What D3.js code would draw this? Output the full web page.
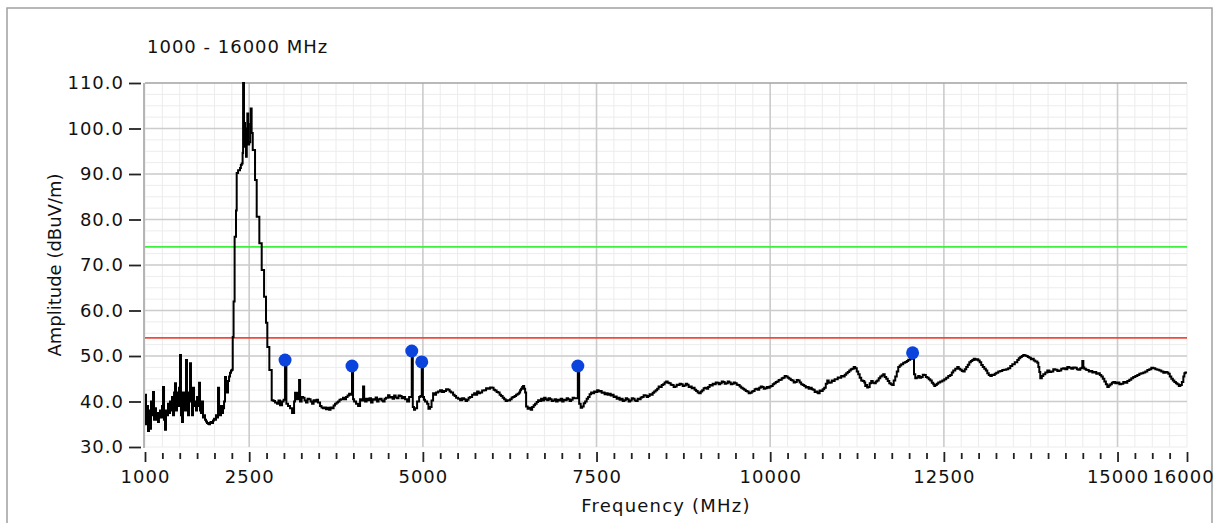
<!DOCTYPE html>
<html>
<head>
<meta charset="utf-8">
<script src="https://cdn.jsdelivr.net/npm/d3@7"></script>
<style>
  html, body { margin: 0; padding: 0; background: #fff; }
  svg { display: block; }
  text { font-family: "DejaVu Sans", Verdana, sans-serif; fill: #111; }
</style>
</head>
<body>
<svg id="chart" width="1215" height="523"></svg>
<script>
// ---------------- DATA ----------------
const titleText = "1000 - 16000 MHz";
const xTitle = "Frequency (MHz)";
const yTitle = "Amplitude (dBuV/m)";
const xDomain = [1000, 16000];
const yDomain = [30, 110];
const xTickLabels = [1000, 2500, 5000, 7500, 10000, 12500, 15000, 16000];
const xMajorGrid = [2500, 5000, 7500, 10000, 12500, 15000];
const yTickLabels = [30, 40, 50, 60, 70, 80, 90, 100, 110];
const limitValues = [74, 54];          // green (peak limit), red (average limit)
const limitColors = ["#3cf03c", "#f04a3c"];
const markerFreq = [3016, 3980, 4840, 4984, 7231, 12050];
const markerAmp  = [49.1, 47.8, 51.1, 48.7, 47.8, 50.7];
// spectrum trace: [frequency MHz, amplitude dBuV/m]
const trace = [
 [1000,41.5],[1014,35],[1029,39],[1043,33.5],[1058,38],[1072,34],[1086,40],[1101,37],[1115,42.1],[1130,36],
 [1144,38.5],[1158,36],[1173,37.5],[1187,35.5],[1201,37],[1216,38],[1230,36.5],[1245,39],[1259,43.2],[1274,36],
 [1288,33.8],[1302,38],[1317,37],[1331,39.5],[1346,37.5],[1360,40],[1374,38],[1389,41],[1403,37],[1418,42],
 [1432,44],[1446,38],[1461,42],[1475,39],[1490,43],[1504,50.2],[1518,37],[1533,35.5],[1547,42],[1562,38],
 [1576,41],[1590,49.1],[1605,38],[1619,37],[1634,42],[1648,48.4],[1662,40],[1677,37],[1691,43],[1706,39],
 [1720,40],[1734,38],[1749,41],[1763,39],[1778,44.1],[1792,38],[1806,37.5],[1821,40],[1835,36.5],[1850,37],
 [1864,36],[1878,35.6],[1893,35.3],[1907,35.1],[1922,35],[1936,35.4],[1950,35.5],[1965,35.3],[1979,35.8],[1994,36.2],
 [2008,36],[2022,37],[2037,36.5],[2051,43],[2066,38],[2080,37],[2094,39],[2109,37.5],[2123,38.5],[2138,40],
 [2152,45.4],[2166,43],[2181,42],[2195,44.5],[2210,45.5],[2224,46.3],[2238,46.8],[2253,47],
 [2263,54.2],[2275,62],[2290,76.2],[2310,82],[2320,90.2],[2340,90.8],[2368,91.3],[2380,92],[2392,92.3],[2405,94.6],
 [2412,110],[2425,101.2],[2440,96],[2454,93.8],[2465,100],[2473,103.3],[2485,96.5],[2500,97],[2515,101],[2522,104.4],
 [2535,99],[2551,95.3],[2584,88.7],[2608,80.6],[2646,74.8],[2680,68.9],[2714,63],[2742,57.3],[2761,52],[2790,46.9],
 [2824,40.3],[2850,40.1],[2872,39.8],[2901,39.5],[2922,40.2],[2944,39.2],[2973,40],[2995,40.4],[3016,49.1],[3035,39.5],
 [3059,39],[3088,38.5],[3117,37.5],[3146,40],[3160,41.9],[3189,40.5],[3218,44.7],[3232,40],[3255,41],[3275,40.8],
 [3297,40.2],[3318,39.8],[3340,40.6],[3362,40.5],[3384,40],[3405,39.5],[3427,40.3],[3448,40],[3470,40.4],[3491,39.8],
 [3520,39],[3541,38.7],[3563,38.5],[3585,38.7],[3606,38.3],[3628,38.6],[3650,38.2],[3671,38.7],[3693,38.5],[3715,39.1],
 [3736,39.5],[3758,39.8],[3779,40],[3800,40.4],[3822,40.5],[3851,40.8],[3872,40.5],[3894,41],[3916,41.3],[3938,41.7],
 [3962,41.5],[3980,47.8],[3995,40.5],[4010,40],[4038,39.5],[4067,39],[4096,40.5],[4120,40.2],[4139,43.3],[4155,40.6],
 [4168,40],[4190,40.6],[4211,40.3],[4233,40.7],[4254,39.8],[4276,40.5],[4298,40.4],[4320,40.9],[4341,40],[4362,40.5],
 [4384,40.6],[4406,40.2],[4427,40],[4449,40.6],[4470,40.8],[4499,41.4],[4520,40.9],[4542,41],[4564,40.6],[4586,41.3],
 [4608,40.9],[4629,40.7],[4650,41.3],[4672,41.2],[4694,40.7],[4715,41],[4744,40.5],[4773,40],[4802,41],[4825,41],
 [4840,51.1],[4855,38.8],[4872,38.2],[4888,38.5],[4917,40],[4946,41],[4965,41.2],[4984,48.7],[5000,41],[5016,40.4],
 [5032,40],[5061,39.5],[5080,38.4],[5104,38.8],[5125,40.2],[5147,41.8],[5168,41.5],[5190,42],[5219,42.2],[5248,42.5],
 [5277,42.1],[5306,42.3],[5334,42.7],[5363,42.6],[5385,42.2],[5406,42],[5435,41.5],[5457,41.2],[5478,40.8],[5507,40.6],
 [5536,40.3],[5565,40.7],[5594,40.5],[5615,40.1],[5637,40.4],[5658,40.8],[5680,41],[5709,41.5],[5738,41.8],[5760,41.5],
 [5781,42.2],[5802,41.8],[5824,42],[5853,42.4],[5882,42.5],[5910,42.9],[5939,42.8],[5968,43.1],[5997,43],[6018,42.6],
 [6040,42.4],[6062,42.1],[6083,42],[6105,41.5],[6126,41.2],[6148,40.8],[6170,40.5],[6191,40.1],[6213,40.3],[6234,40.2],
 [6256,40.5],[6278,40.9],[6299,41],[6320,41.2],[6342,41.5],[6364,41.7],[6386,42],[6400,42.5],[6414,42.8],[6430,43.2],
 [6443,43.4],[6458,42.8],[6472,42],[6486,38.9],[6508,38.4],[6530,38.6],[6552,38.2],[6573,38.8],[6595,39.2],[6616,39.5],
 [6638,39.9],[6659,40.3],[6680,40.1],[6702,40.6],[6724,40.2],[6746,40.8],[6767,40.5],[6789,40.3],[6810,40.7],[6832,40.5],
 [6854,40.1],[6875,40.2],[6896,40.5],[6918,40],[6940,40.4],[6962,40.2],[6984,40.6],[7005,40],[7026,40.4],[7048,40.3],
 [7070,40.7],[7091,40.5],[7112,40.1],[7134,40.4],[7156,40.8],[7178,40.7],[7210,40.7],[7231,47.8],[7250,39.5],[7272,38.6],
 [7293,38.9],[7315,39.6],[7336,40],[7358,40.6],[7379,41],[7400,41.6],[7422,42],[7444,41.8],[7466,42.2],[7488,42.1],
 [7509,42.5],[7530,42.2],[7552,42.3],[7574,41.9],[7595,42],[7616,41.6],[7638,41.8],[7660,41.5],[7682,41.7],[7704,41.3],
 [7725,41.5],[7746,41],[7768,41.1],[7790,40.6],[7811,40.8],[7832,40.4],[7854,40.6],[7876,40.1],[7898,40.3],[7920,40.7],
 [7941,40.5],[7962,40],[7984,40.2],[8006,40.7],[8027,40.6],[8048,40.2],[8070,40.1],[8092,40.6],[8114,40.5],[8135,40.9],
 [8157,41],[8178,41.4],[8200,41.3],[8222,41],[8243,41.2],[8264,41.6],[8286,41.5],[8308,41.9],[8330,42.2],[8351,42.5],
 [8373,42.8],[8394,43.3],[8416,43.2],[8438,43.6],[8459,43.8],[8480,44.2],[8502,44.4],[8524,44.1],[8546,44],[8568,43.7],
 [8589,43.6],[8610,43.2],[8632,43.3],[8654,43.7],[8675,43.6],[8696,43.9],[8718,43.8],[8740,43.4],[8762,43.5],[8784,43.9],
 [8805,43.7],[8826,43.2],[8848,43.3],[8870,42.9],[8891,43],[8912,42.6],[8934,42.3],[8956,42],[8978,41.8],[9000,42.2],
 [9021,42.5],[9042,42.9],[9064,43],[9086,42.8],[9107,43.2],[9128,43.6],[9150,43.5],[9172,43.9],[9194,43.8],[9216,44.2],
 [9237,44.1],[9258,43.8],[9280,44],[9302,44.4],[9323,44.3],[9344,43.9],[9366,44],[9388,44.4],[9410,44.2],[9432,43.8],
 [9453,43.9],[9474,44.2],[9496,44],[9518,43.7],[9539,43.6],[9560,43.3],[9582,43],[9604,42.8],[9626,42.6],[9648,42.3],
 [9669,42.2],[9690,41.8],[9712,41.9],[9734,42.2],[9755,42.3],[9776,42.7],[9798,42.8],[9820,42.6],[9842,43],[9864,43.3],
 [9885,43.2],[9906,42.8],[9928,42.9],[9950,43.2],[9971,43],[9992,43.3],[10014,43.4],[10036,43.8],[10058,44],[10080,44.3],
 [10101,44.4],[10122,44.7],[10144,44.8],[10166,45.1],[10187,45.2],[10208,45.6],[10230,45.5],[10252,45.2],[10274,45],[10296,44.7],
 [10317,44.6],[10338,44.2],[10360,44.3],[10382,44.7],[10403,44.6],[10424,44.2],[10446,43.8],[10468,43.6],[10490,43.4],[10512,43.1],
 [10533,43.2],[10554,42.8],[10576,43],[10598,42.7],[10619,42.6],[10640,42.1],[10662,42.2],[10680,41.9],[10691,41.8],[10712,42.4],
 [10734,42.3],[10756,42.7],[10778,43],[10800,43.9],[10821,44.6],[10842,44.1],[10864,44.2],[10886,44.6],[10907,44.5],[10928,44.9],
 [10950,44.9],[10972,45.3],[10994,45.2],[11022,45.6],[11051,45.5],[11072,45.9],[11094,46.2],[11116,46.5],[11138,46.8],[11160,47.1],
 [11181,47.2],[11202,47.6],[11224,47.3],[11246,46.6],[11267,46],[11288,45.2],[11310,44.6],[11332,44.5],[11354,44.2],[11368,43.4],
 [11382,43.6],[11396,43.1],[11411,43.2],[11432,44],[11454,44.5],[11476,44.1],[11498,44],[11520,44.4],[11541,44.6],[11562,45.1],
 [11584,45.5],[11606,45.7],[11627,46],[11648,45.4],[11670,45],[11692,44.5],[11714,44],[11736,43.8],[11757,43.6],[11778,44.6],
 [11800,45.5],[11822,46.6],[11843,47.6],[11864,47.9],[11886,48.2],[11915,48.5],[11944,48.7],[11966,48.9],[11987,49.2],[12016,49.4],
 [12032,49.4],[12050,50.7],[12070,46],[12088,45.1],[12110,45.3],[12131,45.6],[12152,45.2],[12174,45.4],[12196,45.9],[12218,45.8],
 [12240,45.4],[12261,45.2],[12282,44.9],[12304,44.6],[12326,44.1],[12347,43.8],[12362,43.4],[12376,43.6],[12398,43.9],[12419,44.2],
 [12448,44.4],[12478,44.6],[12506,44.9],[12534,45.2],[12563,45.6],[12592,45.8],[12614,46.4],[12635,46.8],[12664,47.2],[12693,47.6],
 [12714,47.2],[12736,47],[12758,46.7],[12779,46.6],[12800,47.1],[12822,47.6],[12844,48.1],[12866,48.6],[12888,48.9],[12909,49.1],
 [12930,49.4],[12952,49.2],[12974,49.3],[12995,49],[13016,48.6],[13038,48],[13060,47.6],[13082,47.2],[13104,46.8],[13125,46.2],
 [13146,45.8],[13168,45.6],[13190,45.9],[13211,45.8],[13232,46.1],[13254,46.3],[13283,46.6],[13312,46.7],[13341,46.9],[13370,47],
 [13398,47.1],[13426,47.3],[13456,47.8],[13485,48.2],[13521,48.6],[13557,49.1],[13578,49.5],[13600,49.8],[13622,50],[13643,50.2],
 [13664,50.1],[13686,50],[13708,49.8],[13730,49.6],[13752,49.3],[13773,49.4],[13794,49],[13816,48.8],[13845,48.5],[13860,47.6],
 [13874,46.5],[13888,45.1],[13910,45.6],[13931,46],[13960,46.4],[13989,46.8],[14018,46.5],[14046,46.6],[14075,47.1],[14104,47],
 [14133,46.7],[14162,46.8],[14190,47.2],[14219,47.3],[14248,47.1],[14277,47.6],[14306,47.4],[14334,47.2],[14363,47.5],[14392,47.4],
 [14414,47.1],[14435,47],[14464,47.3],[14485,47.4],[14493,48.9],[14508,47.5],[14522,47.2],[14544,47],[14565,46.9],[14586,46.6],
 [14608,46.7],[14637,46.4],[14666,46.5],[14694,46.1],[14723,46.2],[14745,45.8],[14766,45.5],[14788,45],[14810,44.4],[14832,43.8],
 [14853,43.2],[14874,43.5],[14896,43.8],[14918,44.1],[14939,44.3],[14968,44],[14997,44.2],[15026,43.8],[15054,43.9],[15083,44.3],
 [15112,44.1],[15141,44.5],[15170,44.8],[15198,45.1],[15226,45.4],[15256,45.6],[15285,45.8],[15314,46.1],[15342,46.2],[15371,46.4],
 [15400,46.6],[15429,46.9],[15458,47.1],[15486,47.4],[15515,47.3],[15544,47.1],[15573,47],[15602,46.8],[15630,46.6],[15659,46.3],
 [15688,46.5],[15710,46.4],[15731,46.1],[15752,45.5],[15774,45],[15796,44.6],[15818,44.3],[15840,44],[15861,43.8],[15882,43.4],
 [15904,43.6],[15926,44.3],[15947,45.5],[15962,46.2],[15976,46.4],[16000,46.6]
];

// ---------------- LAYOUT ----------------
const W = 1215, H = 523;
const plot = { left: 145, right: 1187, top: 83, bottom: 447 };

const svg = d3.select("#chart");
svg.append("rect").attr("width", W).attr("height", H).attr("fill", "#fff");
// outer frame
svg.append("rect").attr("x", 7).attr("y", 8).attr("width", 1205).attr("height", 540)
  .attr("fill", "none").attr("stroke", "#a0a0a0").attr("stroke-width", 1.5);

const x = d3.scaleLinear().domain(xDomain).range([plot.left, plot.right]);
const y = d3.scaleLinear().domain(yDomain).range([plot.bottom, plot.top]);

// minor grid
const xMinor = d3.range(xDomain[0], xDomain[1] + 1, 250);
const yMinor = d3.range(yDomain[0], yDomain[1] + 0.01, 2.5);
const grid = svg.append("g");
grid.selectAll(".xm").data(xMinor).join("line")
  .attr("x1", d => x(d)).attr("x2", d => x(d))
  .attr("y1", plot.top).attr("y2", plot.bottom)
  .attr("stroke", "#ececec").attr("stroke-width", 1);
grid.selectAll(".ym").data(yMinor).join("line")
  .attr("x1", plot.left).attr("x2", plot.right)
  .attr("y1", d => y(d)).attr("y2", d => y(d))
  .attr("stroke", "#ececec").attr("stroke-width", 1);
// major grid
grid.selectAll(".xM").data(xMajorGrid).join("line")
  .attr("x1", d => x(d)).attr("x2", d => x(d))
  .attr("y1", plot.top).attr("y2", plot.bottom)
  .attr("stroke", "#cccccc").attr("stroke-width", 1.6);
grid.selectAll(".yM").data(yTickLabels.slice(1, -1)).join("line")
  .attr("x1", plot.left).attr("x2", plot.right)
  .attr("y1", d => y(d)).attr("y2", d => y(d))
  .attr("stroke", "#cccccc").attr("stroke-width", 1.6);

// plot border (top & left)
svg.append("line").attr("x1", plot.left).attr("x2", plot.right).attr("y1", plot.top).attr("y2", plot.top)
  .attr("stroke", "#a4a4a4").attr("stroke-width", 1.6);
svg.append("line").attr("x1", plot.left - 1).attr("x2", plot.left - 1).attr("y1", plot.top).attr("y2", plot.bottom + 1)
  .attr("stroke", "#a4a4a4").attr("stroke-width", 1.6);

// limit lines
svg.append("g").selectAll("line").data(limitValues).join("line")
  .attr("x1", plot.left).attr("x2", plot.right)
  .attr("y1", d => y(d)).attr("y2", d => y(d))
  .attr("stroke", (d, i) => limitColors[i]).attr("stroke-width", 1.8);

// clip
svg.append("clipPath").attr("id", "clip").append("rect")
  .attr("x", plot.left).attr("y", plot.top - 1)
  .attr("width", plot.right - plot.left).attr("height", plot.bottom - plot.top + 1);

// trace
const line = d3.line().x(d => x(d[0])).y(d => y(d[1])).curve(d3.curveStepAfter);
svg.append("path").datum(trace).attr("clip-path", "url(#clip)")
  .attr("d", line).attr("fill", "none").attr("stroke", "#000")
  .attr("stroke-width", 2).attr("stroke-linejoin", "miter");

// markers
svg.append("g").selectAll("circle").data(markerFreq).join("circle")
  .attr("cx", d => x(d)).attr("cy", (d, i) => y(markerAmp[i]))
  .attr("r", 6.5).attr("fill", "#0a44dc");

// x axis
const xAxisMajor = d3.axisBottom(x).tickValues(xTickLabels).tickSize(10).tickPadding(8)
  .tickFormat(d3.format("d"));
const gx = svg.append("g").attr("transform", `translate(0,${plot.bottom + 5})`).call(xAxisMajor);
const xMinorTicks = xMinor.filter(v => !xTickLabels.includes(v));
const gxm = svg.append("g").attr("transform", `translate(0,${plot.bottom + 6})`)
  .call(d3.axisBottom(x).tickValues(xMinorTicks).tickSize(6).tickFormat(""));
[gx, gxm].forEach(g => {
  g.select(".domain").remove();
  g.selectAll(".tick line").attr("stroke", "#222").attr("stroke-width", 1.8);
});
gx.selectAll(".tick text").attr("font-size", 18).attr("letter-spacing", "1px")
  .attr("fill", "#111").attr("font-family", "DejaVu Sans, sans-serif")
  .attr("dx", d => d === xDomain[1] ? -4 : 0);

// y axis
const yAxis = d3.axisLeft(y).tickValues(yTickLabels).tickSize(12).tickPadding(5)
  .tickFormat(d3.format(".1f"));
const gy = svg.append("g").attr("transform", `translate(${plot.left - 4},0)`).call(yAxis);
gy.select(".domain").remove();
gy.selectAll(".tick line").attr("stroke", "#222").attr("stroke-width", 1.8);
gy.selectAll(".tick text").attr("font-size", 18).attr("letter-spacing", "1px")
  .attr("fill", "#111").attr("font-family", "DejaVu Sans, sans-serif");

// titles
svg.append("text").attr("x", 147).attr("y", 53).attr("font-size", 18)
  .attr("letter-spacing", "1px").text(titleText);
svg.append("text").attr("x", (plot.left + plot.right) / 2).attr("y", 512)
  .attr("text-anchor", "middle").attr("font-size", 18).attr("letter-spacing", "1.2px").text(xTitle);
svg.append("text").attr("transform", `translate(61,${(plot.top + plot.bottom) / 2}) rotate(-90)`)
  .attr("text-anchor", "middle").attr("font-size", 18).text(yTitle);
</script>
</body>
</html>
